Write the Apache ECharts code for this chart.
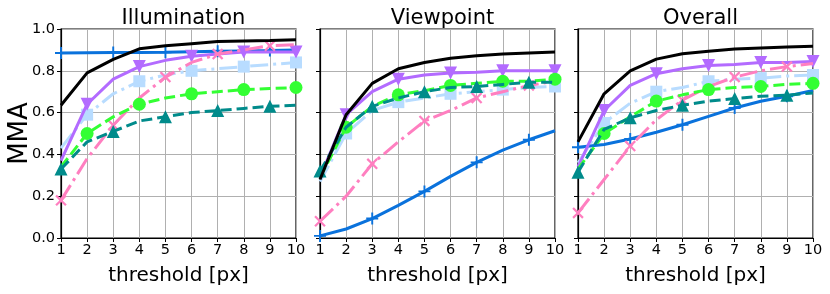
<!DOCTYPE html>
<html><head><meta charset="utf-8">
<script src="https://cdn.jsdelivr.net/npm/echarts@6/dist/echarts.min.js"></script>
<style>html,body{margin:0;padding:0;background:#fff}#c{width:830px;height:294px}</style>
</head><body><div id="c"></div>
<script>
const thresholds = [1,2,3,4,5,6,7,8,9,10];
const panelTitles = ['Illumination','Viewpoint','Overall'];
const yTicks = [0, 0.2, 0.4, 0.6, 0.8, 1.0];

// Illumination
const illumBlack  = [0.635,0.79,0.855,0.905,0.92,0.93,0.94,0.943,0.945,0.948];
const illumBlue   = [0.885,0.886,0.887,0.888,0.889,0.891,0.893,0.895,0.897,0.9];
const illumPurple = [0.37,0.64,0.76,0.82,0.85,0.87,0.88,0.89,0.89,0.89];
const illumLight  = [0.43,0.59,0.69,0.75,0.78,0.80,0.81,0.82,0.83,0.84];
const illumPink   = [0.18,0.38,0.54,0.67,0.77,0.84,0.88,0.90,0.92,0.925];
const illumGreen  = [0.34,0.50,0.58,0.64,0.67,0.69,0.70,0.71,0.715,0.72];
const illumTeal   = [0.33,0.46,0.51,0.56,0.58,0.60,0.61,0.62,0.63,0.635];

// Viewpoint
const viewBlack  = [0.28,0.59,0.74,0.81,0.84,0.86,0.872,0.88,0.885,0.89];
const viewBlue   = [0.01,0.043,0.093,0.156,0.223,0.295,0.362,0.42,0.47,0.513];
const viewPurple = [0.29,0.59,0.70,0.76,0.78,0.79,0.793,0.80,0.80,0.80];
const viewLight  = [0.27,0.50,0.61,0.65,0.67,0.69,0.70,0.71,0.72,0.725];
const viewPink   = [0.08,0.20,0.355,0.46,0.56,0.61,0.67,0.70,0.73,0.75];
const viewGreen  = [0.29,0.53,0.63,0.685,0.705,0.73,0.74,0.75,0.75,0.76];
const viewTeal   = [0.32,0.53,0.63,0.67,0.70,0.72,0.725,0.735,0.745,0.745];

// Overall
const allBlack  = [0.46,0.69,0.80,0.856,0.882,0.893,0.904,0.909,0.914,0.917];
const allBlue   = [0.434,0.447,0.474,0.506,0.542,0.582,0.622,0.654,0.678,0.706];
const allPurple = [0.34,0.61,0.73,0.786,0.81,0.825,0.83,0.84,0.84,0.845];
const allLight  = [0.36,0.55,0.645,0.70,0.72,0.75,0.76,0.765,0.775,0.78];
const allPink   = [0.12,0.28,0.44,0.566,0.66,0.725,0.77,0.80,0.82,0.835];
const allGreen  = [0.33,0.50,0.58,0.655,0.685,0.71,0.72,0.725,0.735,0.74];
const allTeal   = [0.315,0.52,0.575,0.61,0.635,0.655,0.667,0.678,0.683,0.694];

const panels = [
  [illumBlack, illumBlue, illumPurple, illumLight, illumPink, illumGreen, illumTeal],
  [viewBlack, viewBlue, viewPurple, viewLight, viewPink, viewGreen, viewTeal],
  [allBlack, allBlue, allPurple, allLight, allPink, allGreen, allTeal]
];

const PLUS = 'path://M4.2,0H5.8V4.2H10V5.8H5.8V10H4.2V5.8H0V4.2H4.2Z';
const styles = [
  {color:'#000000', type:'solid', symbol:'none', size:0, rot:0, odd:true, z:9},
  {color:'#0a72dc', type:'solid', symbol:PLUS, size:12, rot:0, odd:true, z:3},
  {color:'#b36bff', type:'solid', symbol:'triangle', size:13, rot:180, odd:false, z:5},
  {color:'#b8dcff', type:[18,5,3,5], symbol:'rect', size:12, rot:0, odd:false, z:4},
  {color:'#ff7fc0', type:[18,5,3,5], symbol:PLUS, size:14, rot:45, odd:true, z:6},
  {color:'#33ff33', type:[11,5], symbol:'circle', size:13, rot:0, odd:false, z:7},
  {color:'#008b8b', type:[11,5], symbol:'triangle', size:13, rot:0, odd:true, z:8}
];

const lefts = [61, 320, 578];
const font = 'DejaVu Sans';
const grid = [], xAxis = [], yAxis = [], series = [], title = [];
panels.forEach((arrs, p) => {
  grid.push({left: lefts[p], top: 29, width: 235, height: 209, show: true, borderColor: '#000', borderWidth: 1.2, backgroundColor:'transparent'});
  title.push({text: panelTitles[p], left: lefts[p] + 117.5, top: 3, textAlign: 'center',
    textStyle: {fontFamily: font, fontSize: 21, fontWeight: 'normal', color: '#000'}});
  xAxis.push({type:'value', gridIndex:p, min:1, max:10, interval:1,
    name:'threshold [px]', nameLocation:'middle', nameGap:28,
    nameTextStyle:{fontFamily:font, fontSize:20, color:'#000'},
    axisLine:{show:true, onZero:false, lineStyle:{color:'#000', width:1.2}},
    axisTick:{show:true, length:4, lineStyle:{color:'#000'}},
    axisLabel:{fontFamily:font, fontSize:14.5, color:'#000', margin:5, showMinLabel:true, showMaxLabel:true},
    splitLine:{show:true, lineStyle:{color:'#b0b0b0', width:1}}});
  yAxis.push({type:'value', gridIndex:p, min:0, max:1, interval:0.2,
    name: p === 0 ? 'MMA' : '', nameLocation:'middle', nameGap:28, nameMoveOverlap:false,
    nameTextStyle:{fontFamily:font, fontSize:26, color:'#000'},
    axisLine:{show:true, lineStyle:{color:'#000', width:1.2}},
    axisTick:{show:true, length:4, lineStyle:{color:'#000'}},
    axisLabel:{show: p === 0, fontFamily:font, fontSize:14.5, color:'#000', margin:6,
      formatter: v => v.toFixed(1)},
    splitLine:{show:true, lineStyle:{color:'#b0b0b0', width:1}}});
  arrs.forEach((vals, s) => {
    const st = styles[s];
    series.push({type:'line', xAxisIndex:p, yAxisIndex:p, z: st.z,
      data: thresholds.map((t,i) => [t, vals[i]]),
      symbol: st.symbol, symbolRotate: st.rot, showAllSymbol: true,
      symbolSize: (v, params) => ((params.dataIndex % 2 === 0) === st.odd) ? st.size : 0,
      smooth: false, clip: true,
      lineStyle:{color: st.color, width: 3, type: st.type},
      itemStyle:{color: st.color, borderWidth: 0},
      emphasis:{disabled:true}, animation:false});
  });
});

const chart = echarts.init(document.getElementById('c'), null, {renderer:'canvas'});
chart.setOption({animation:false, backgroundColor:'#fff', title, grid, xAxis, yAxis, series});
</script></body></html>
